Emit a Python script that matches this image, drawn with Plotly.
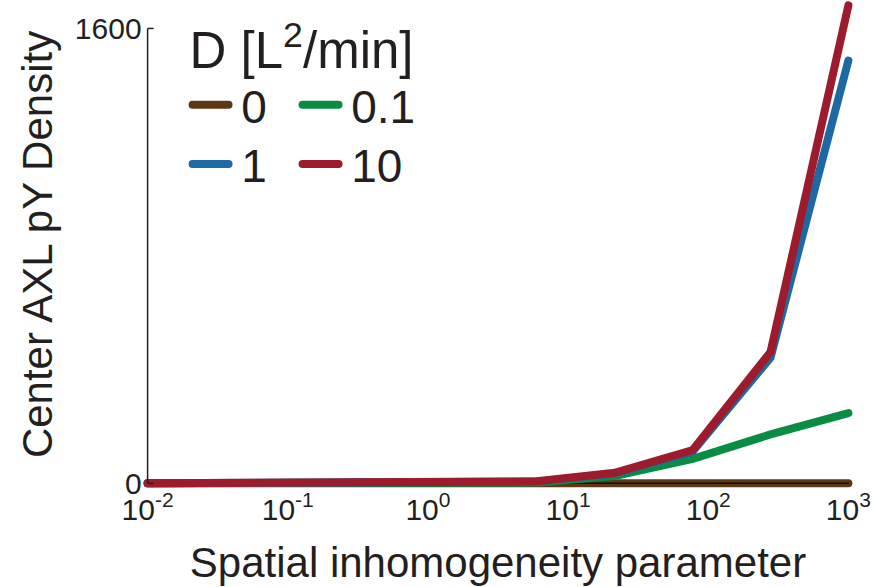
import plotly.graph_objects as go

# ---- data ----
x_vals = [0.01, 0.0359, 0.129, 0.464, 1.668, 5.995, 21.54, 77.43, 278.3, 1000]
d_0 = [0, 0, 0, 0, 0, 0, 0, 0, 0, 0]
d_01 = [0, 0, 0, 0, 0, 3, 26, 86, 172, 247]
d_1 = [0, 0, 0, 0, 0, 6, 35, 112, 442, 1487]
d_10 = [0, 0, 0, 0, 0, 7, 37, 117, 462, 1681]
series_names = ["0", "0.1", "1", "10"]
series_colors = ["#5B3915", "#0A8C45", "#1E68A4", "#9C1C2D"]
legend_groups = ["legend", "legend", "legend2", "legend2"]
legend_title = "D [L<sup>2</sup>/min]"
x_tickvals = [0.01, 0.1, 1, 10, 100, 1000]
x_ticktext = ["10<sup>-2</sup>", "10<sup>-1</sup>", "10<sup>0</sup>",
              "10<sup>1</sup>", "10<sup>2</sup>", "10<sup>3</sup>"]
y_tickvals = [0, 1600]
y_ticktext = ["0", "1600"]
x_title = "Spatial inhomogeneity parameter"
y_title = "Center AXL pY Density"

TXT = "#231F20"
FONT = "Liberation Sans, Arial, sans-serif"

fig = go.Figure()
for i, (name, ys, col, lg) in enumerate(zip(series_names, [d_0, d_01, d_1, d_10],
                                            series_colors, legend_groups)):
    fig.add_trace(go.Scatter(x=x_vals, y=ys, mode="lines", name="\u2006" + name,
                             line=dict(color=col, width=8), legend=lg,
                             hoverinfo="skip"))
    if i == 0:
        # thin dark core visible on the D=0 line
        fig.add_trace(go.Scatter(x=x_vals, y=ys, mode="lines", showlegend=False,
                                 line=dict(color="#140C05", width=1.5),
                                 hoverinfo="skip"))

xr = [-2.04, 3.04]
plot_w = 874 - 142 - 20
ypos = (-2 - xr[0]) / (xr[1] - xr[0])

# y axis line spanning only 0..max tick, with short inward ticks
fig.add_shape(type="line", xref="paper", yref="y", x0=ypos, x1=ypos,
              y0=y_tickvals[0], y1=y_tickvals[-1], line=dict(color=TXT, width=1.5))
for tv in y_tickvals:
    fig.add_shape(type="line", xref="paper", yref="y", x0=ypos, x1=ypos + 6 / plot_w,
                  y0=tv, y1=tv, line=dict(color=TXT, width=1.5))

fig.update_layout(
    width=874, height=587,
    margin=dict(l=142, r=20, t=0, b=98, autoexpand=False),
    paper_bgcolor="white", plot_bgcolor="white",
    font=dict(family=FONT, color=TXT),
    xaxis=dict(type="log", range=xr, tickvals=x_tickvals, ticktext=x_ticktext,
               showgrid=False, zeroline=False, showline=False, ticks="",
               automargin=False,
               tickfont=dict(size=30, color=TXT),
               title=dict(text=x_title, font=dict(size=42, color=TXT), standoff=22)),
    yaxis=dict(range=[-20, 1700], tickvals=y_tickvals, ticktext=y_ticktext,
               anchor="free", position=ypos, automargin=False,
               showgrid=False, zeroline=False, showline=False,
               ticks="", ticklabelstandoff=6,
               tickfont=dict(size=30, color=TXT),
               title=dict(text=y_title, font=dict(size=42, color=TXT), standoff=8)),
    legend=dict(title=dict(text=legend_title, side="top", font=dict(size=51, color=TXT)),
                orientation="h", x=0.064, y=0.996, xanchor="left", yanchor="top",
                entrywidth=59, itemwidth=36,
                font=dict(size=46, color=TXT), bgcolor="rgba(0,0,0,0)"),
    legend2=dict(orientation="h", x=0.064, y=0.739, xanchor="left", yanchor="top",
                 entrywidth=59, itemwidth=36,
                 font=dict(size=46, color=TXT), bgcolor="rgba(0,0,0,0)"),
    showlegend=True,
)

post = """
document.body.style.margin = '0';
var gd = document.querySelector('.plotly-graph-div');
function rc(){ gd.querySelectorAll('path.js-line, .legendlines path').forEach(function(p){p.style.strokeLinecap='round';}); }
rc(); gd.on('plotly_afterplot', rc);
"""
fig.write_html("out.html", post_script=post, config={"displayModeBar": False})
